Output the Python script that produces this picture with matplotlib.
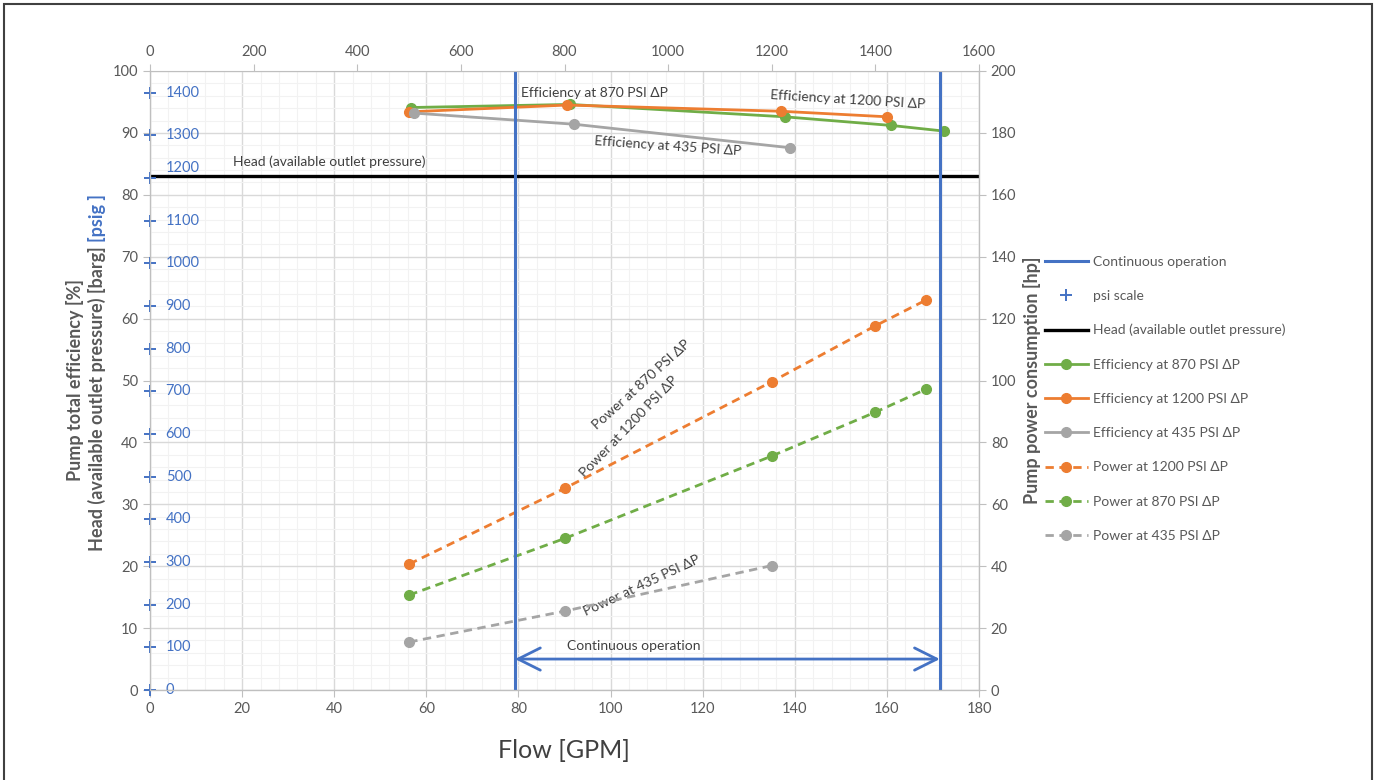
import numpy as np
import matplotlib
matplotlib.use("Agg")
import matplotlib.pyplot as plt
from matplotlib.patches import Rectangle

plt.rcParams['font.family'] = ['Lato', 'DejaVu Sans']

# Flow [GPM] and efficiency [%] (left axis)
eff870_flow = [56.7, 91.2, 137.8, 161.0, 172.3]
eff870_val = [94.1, 94.6, 92.6, 91.2, 90.3]
eff1200_flow = [56.2, 90.6, 136.9, 160.1]
eff1200_val = [93.4, 94.5, 93.5, 92.6]
eff435_flow = [57.4, 92.1, 139.0]
eff435_val = [93.2, 91.4, 87.6]

# Flow [GPM] and power [hp] (right axis)
pow1200_flow = [56.3, 90.1, 135.0, 157.4, 168.5]
pow1200_val = [40.7, 65.2, 99.6, 117.6, 126.0]
pow870_flow = [56.3, 90.1, 135.0, 157.4, 168.5]
pow870_val = [30.7, 49.0, 75.6, 89.7, 97.2]
pow435_flow = [56.3, 90.1, 135.0]
pow435_val = [15.5, 25.5, 40.2]

head_barg = 83.0
cont_op = [79.25, 171.5]
psi_ticks = list(range(0, 1500, 100))
PSI_PER_BAR = 14.5038

GREEN = '#70AD47'
ORANGE = '#ED7D31'
GRAY = '#A5A5A5'
BLUE = '#4472C4'
TXT = '#595959'
DARK = '#404040'

fig = plt.figure(figsize=(13.78, 7.8), dpi=100)
ax = fig.add_axes([150 / 1378, 1 - 690 / 780, 829 / 1378, 619 / 780])
ax2 = ax.twinx()
ax3 = ax.twiny()

ax.set_xlim(0, 180)
ax.set_ylim(0, 100)
ax2.set_ylim(0, 200)
ax3.set_xlim(0, 1600)

ax.set_xticks(np.arange(0, 181, 20))
ax.set_xticks(np.arange(0, 181, 4), minor=True)
ax.set_yticks(np.arange(0, 101, 10))
ax.set_yticks(np.arange(0, 101, 2), minor=True)
ax2.set_yticks(np.arange(0, 201, 20))
ax3.set_xticks(np.arange(0, 1601, 200))

ax.grid(which='major', color='#D9D9D9', lw=1.0)
ax.grid(which='minor', color='#F2F2F2', lw=0.8)
ax.set_axisbelow(True)

for a in (ax, ax2, ax3):
    for s in a.spines.values():
        s.set_color('#BFBFBF')
    a.tick_params(which='major', colors='#BFBFBF', labelcolor=TXT, labelsize=10.5, length=5)
    a.tick_params(which='minor', length=0)
ax.spines['top'].set_visible(False)
ax2.spines['top'].set_visible(False)

# efficiency curves
l_e870, = ax.plot(eff870_flow, eff870_val, color=GREEN, lw=2, marker='o', ms=7,
                  label='Efficiency at 870 PSI ΔP')
l_e1200, = ax.plot(eff1200_flow, eff1200_val, color=ORANGE, lw=2, marker='o', ms=7,
                   label='Efficiency at 1200 PSI ΔP')
l_e435, = ax.plot(eff435_flow, eff435_val, color=GRAY, lw=2, marker='o', ms=7,
                  label='Efficiency at 435 PSI ΔP')

# head line
l_head = ax.axhline(head_barg, color='black', lw=2.4, label='Head (available outlet pressure)')

# psi scale
psi_pos = [p / PSI_PER_BAR for p in psi_ticks]
l_psi, = ax.plot([0] * len(psi_pos), psi_pos, ls='none', marker='+', ms=8, mew=1.4,
                 color=BLUE, clip_on=False, zorder=5, label='psi scale')
for p, y in zip(psi_ticks, psi_pos):
    dy = 10 if p == 1200 else 0  # this label sits above the head line
    ax.annotate(str(p), (3.4, y), xytext=(0, dy), textcoords='offset pixels',
                color=BLUE, fontsize=10.5, va='center', ha='left')

# power curves
l_p1200, = ax2.plot(pow1200_flow, pow1200_val, color=ORANGE, lw=2, ls=(0, (3, 2)),
                    marker='o', ms=7, label='Power at 1200 PSI ΔP')
l_p870, = ax2.plot(pow870_flow, pow870_val, color=GREEN, lw=2, ls=(0, (3, 2)),
                   marker='o', ms=7, label='Power at 870 PSI ΔP')
l_p435, = ax2.plot(pow435_flow, pow435_val, color=GRAY, lw=2, ls=(0, (3, 2)),
                   marker='o', ms=7, label='Power at 435 PSI ΔP')

# continuous operation
for x in cont_op:
    l_cont = ax2.axvline(x, color=BLUE, lw=2.2, label='Continuous operation')
ax.annotate('', xy=(cont_op[0], 5.0), xytext=(cont_op[1], 5.0),
            arrowprops=dict(arrowstyle='<->', color=BLUE, lw=2, mutation_scale=40,
                            shrinkA=0, shrinkB=0))
ax.text(105.1, 7.1, 'Continuous operation', color=DARK, fontsize=10, ha='center', va='center')

# labels on the chart
ax.text(18.1, 85.3, 'Head (available outlet pressure)', color=DARK, fontsize=10, va='center')
ax.text(96.6, 96.5, 'Efficiency at 870 PSI ΔP', color=DARK, fontsize=10, ha='center', va='center')
ax.text(151.6, 95.3, 'Efficiency at 1200 PSI ΔP', color=DARK, fontsize=10, ha='center',
        va='center', rotation=-3.5, rotation_mode='anchor')
ax.text(112.5, 87.8, 'Efficiency at 435 PSI ΔP', color=DARK, fontsize=10, ha='center',
        va='center', rotation=-4, rotation_mode='anchor')
ax.text(106.8, 49.4, 'Power at 870 PSI ΔP', color=DARK, fontsize=10, ha='center',
        va='center', rotation=42, rotation_mode='anchor')
ax.text(104.1, 42.6, 'Power at 1200 PSI ΔP', color=DARK, fontsize=10, ha='center',
        va='center', rotation=46, rotation_mode='anchor')
ax.text(106.7, 16.8, 'Power at 435 PSI ΔP', color=DARK, fontsize=10, ha='center',
        va='center', rotation=25, rotation_mode='anchor')

# axis titles
fig.text(564 / 1378, 1 - 750 / 780, 'Flow [GPM]', fontsize=18, color=DARK,
         ha='center', va='center')
fig.text(1032 / 1378, 1 - 380 / 780, 'Pump power consumption [hp]', rotation=90, fontsize=13,
         fontweight='bold', color=TXT, ha='center', va='center')
fig.text(75 / 1378, 1 - 380 / 780, 'Pump total efficiency [%]', rotation=90, fontsize=13,
         fontweight='bold', color=TXT, ha='center', va='center')
fig.text(97 / 1378, 1 - 246 / 780, 'Head (available outlet pressure) [barg]', rotation=90,
         fontsize=13, fontweight='bold', color=TXT, ha='center', va='top')
fig.text(97 / 1378, 1 - 242 / 780, '[psig ]', rotation=90, fontsize=13,
         fontweight='bold', color=BLUE, ha='center', va='bottom')

handles = [l_cont, l_psi, l_head, l_e870, l_e1200, l_e435, l_p1200, l_p870, l_p435]
fig.legend(handles=handles, labels=[h.get_label() for h in handles], loc='upper left',
           bbox_to_anchor=(1032 / 1378, 1 - 243 / 780), frameon=False, fontsize=10,
           handlelength=3.1, handletextpad=0.4, labelspacing=1.6, labelcolor=TXT)

fig.add_artist(Rectangle((4 / 1378, -0.05), 1368 / 1378, 1.05 - 4 / 780, transform=fig.transFigure,
                         fill=False, edgecolor='#404040', lw=1.5))

fig.savefig('out.png', dpi=100)
